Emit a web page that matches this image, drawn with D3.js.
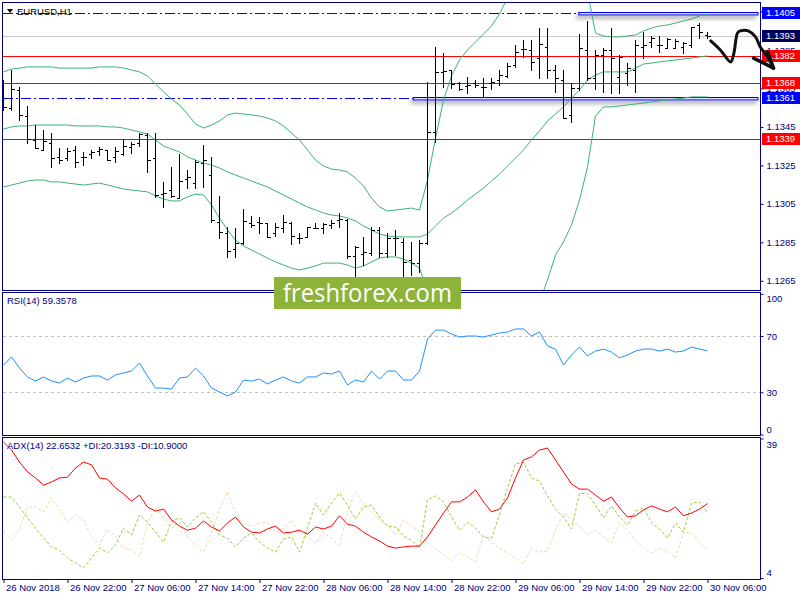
<!DOCTYPE html>
<html>
<head>
<meta charset="utf-8">
<style>
  body { margin: 0; background: #fff; }
  svg { display: block; font-family: "Liberation Sans", Arial, sans-serif; }
</style>
<script src="https://cdn.jsdelivr.net/npm/d3@7/dist/d3.min.js"></script>
</head>
<body>
<svg id="chart" width="800" height="600"></svg>
<script>
var timeLabels = ["26 Nov 2018", "26 Nov 22:00", "27 Nov 06:00", "27 Nov 14:00", "27 Nov 22:00", "28 Nov 06:00",
                  "28 Nov 14:00", "28 Nov 22:00", "29 Nov 06:00", "29 Nov 14:00", "29 Nov 22:00", "30 Nov 06:00"];

var openP = [1.13642,1.13548,1.13642,1.13507,1.13382,1.13330,1.13366,1.13294,1.13288,1.13330,
  1.13294,1.13309,1.13325,1.13330,1.13294,1.13309,1.13346,1.13366,1.13408,1.13288,
  1.13101,1.13122,1.13080,1.13179,1.13158,1.13262,1.13200,1.12956,1.12898,1.12815,
  1.12846,1.12950,1.12956,1.12950,1.12898,1.12924,1.12950,1.12872,1.12878,1.12924,
  1.12924,1.12940,1.12966,1.12966,1.12779,1.12789,1.12794,1.12914,1.12794,1.12872,
  1.12852,1.12758,1.12742,1.12846,1.13424,1.13736,1.13746,1.13678,1.13663,1.13678,
  1.13658,1.13678,1.13694,1.13715,1.13772,1.13855,1.13850,1.13808,1.13866,1.13746,
  1.13694,1.13512,1.13652,1.13850,1.13704,1.13824,1.13850,1.13710,1.13730,1.13746,
  1.13866,1.13892,1.13876,1.13860,1.13860,1.13866,1.13876,1.13980,1.13928];
var highP = [1.13694,1.13746,1.13658,1.13559,1.13460,1.13434,1.13418,1.13340,1.13340,1.13351,
  1.13320,1.13330,1.13346,1.13330,1.13346,1.13387,1.13372,1.13418,1.13418,1.13418,
  1.13164,1.13242,1.13309,1.13226,1.13278,1.13356,1.13294,1.13091,1.12930,1.12924,
  1.13023,1.12987,1.12982,1.12950,1.12950,1.12992,1.12956,1.12898,1.12930,1.12950,
  1.12950,1.12966,1.13002,1.12971,1.12831,1.12878,1.12930,1.12930,1.12898,1.12914,
  1.12872,1.12852,1.12862,1.13684,1.13866,1.13834,1.13746,1.13684,1.13710,1.13694,
  1.13704,1.13704,1.13746,1.13782,1.13876,1.13902,1.13902,1.13964,1.13964,1.13772,
  1.13746,1.13678,1.13933,1.14001,1.13850,1.13860,1.13964,1.13824,1.13782,1.13902,
  1.13944,1.13923,1.13923,1.13912,1.13907,1.13892,1.13970,1.13990,1.13944];
var lowP = [1.13538,1.13538,1.13486,1.13366,1.13340,1.13330,1.13242,1.13262,1.13278,1.13242,
  1.13252,1.13288,1.13304,1.13278,1.13268,1.13304,1.13314,1.13351,1.13216,1.13086,
  1.13034,1.13086,1.13080,1.13132,1.13132,1.13138,1.12956,1.12872,1.12774,1.12774,
  1.12841,1.12930,1.12898,1.12878,1.12883,1.12904,1.12841,1.12846,1.12878,1.12924,
  1.12898,1.12924,1.12930,1.12768,1.12654,1.12732,1.12784,1.12774,1.12774,1.12784,
  1.12675,1.12680,1.12696,1.12841,1.13372,1.13658,1.13652,1.13642,1.13626,1.13658,
  1.13611,1.13647,1.13668,1.13710,1.13762,1.13814,1.13746,1.13704,1.13704,1.13632,
  1.13496,1.13476,1.13642,1.13694,1.13647,1.13632,1.13626,1.13626,1.13668,1.13632,
  1.13808,1.13866,1.13840,1.13860,1.13860,1.13834,1.13866,1.13912,1.13912];
var closeP = [1.13554,1.13647,1.13512,1.13387,1.13340,1.13377,1.13288,1.13278,1.13325,1.13268,
  1.13294,1.13320,1.13335,1.13278,1.13325,1.13351,1.13361,1.13413,1.13278,1.13096,
  1.13106,1.13091,1.13169,1.13190,1.13268,1.13278,1.12966,1.12904,1.12805,1.12846,
  1.12961,1.12940,1.12950,1.12878,1.12930,1.12956,1.12883,1.12872,1.12930,1.12924,
  1.12945,1.12950,1.12971,1.12779,1.12826,1.12800,1.12914,1.12794,1.12872,1.12872,
  1.12748,1.12742,1.12846,1.13424,1.13736,1.13741,1.13673,1.13647,1.13668,1.13668,
  1.13658,1.13684,1.13720,1.13767,1.13840,1.13855,1.13788,1.13881,1.13746,1.13704,
  1.13496,1.13652,1.13860,1.13704,1.13824,1.13850,1.13808,1.13814,1.13756,1.13876,
  1.13876,1.13912,1.13876,1.13907,1.13897,1.13886,1.13970,1.13944,1.13923];

var bbUpper = [1.13736,1.13751,1.13756,1.13762,1.13762,1.13762,1.13762,1.13756,1.13756,1.13756,
  1.13756,1.13756,1.13762,1.13762,1.13762,1.13756,1.13746,1.13736,1.13715,1.13673,
  1.13632,1.13595,1.13564,1.13517,1.13465,1.13444,1.13460,1.13481,1.13512,1.13522,
  1.13517,1.13512,1.13507,1.13496,1.13481,1.13455,1.13418,1.13382,1.13330,1.13278,
  1.13247,1.13231,1.13226,1.13216,1.13184,1.13143,1.13080,1.13034,1.13013,1.13018,
  1.13023,1.13028,1.13018,1.13174,1.13392,1.13590,1.13715,1.13798,1.13850,1.13892,
  1.13933,1.13975,1.14037,1.14120,1.14183,1.14235,1.14287,1.14318,1.14308,1.14250,
  1.14256,1.14256,1.14214,1.14152,1.13938,1.13923,1.13918,1.13918,1.13923,1.13928,
  1.13949,1.13964,1.13975,1.13980,1.13990,1.14001,1.14011,1.14027,1.14037];
var bbMiddle = [1.13439,1.13450,1.13455,1.13455,1.13460,1.13460,1.13460,1.13460,1.13460,1.13455,
  1.13455,1.13455,1.13455,1.13450,1.13450,1.13444,1.13434,1.13424,1.13413,1.13382,
  1.13351,1.13335,1.13320,1.13294,1.13278,1.13262,1.13252,1.13236,1.13216,1.13200,
  1.13184,1.13169,1.13153,1.13138,1.13117,1.13096,1.13075,1.13054,1.13034,1.13018,
  1.13002,1.12992,1.12987,1.12976,1.12961,1.12935,1.12914,1.12893,1.12883,1.12878,
  1.12878,1.12878,1.12878,1.12893,1.12935,1.12976,1.13002,1.13034,1.13070,1.13101,
  1.13132,1.13169,1.13205,1.13247,1.13288,1.13330,1.13382,1.13429,1.13481,1.13517,
  1.13554,1.13600,1.13642,1.13694,1.13720,1.13736,1.13736,1.13736,1.13736,1.13756,
  1.13777,1.13782,1.13788,1.13793,1.13798,1.13803,1.13808,1.13814,1.13819];
var bbLower = [1.13138,1.13148,1.13158,1.13169,1.13174,1.13174,1.13164,1.13164,1.13158,1.13153,
  1.13148,1.13153,1.13158,1.13148,1.13138,1.13127,1.13122,1.13117,1.13112,1.13091,
  1.13075,1.13065,1.13065,1.13086,1.13101,1.13096,1.13044,1.12976,1.12914,1.12862,
  1.12831,1.12810,1.12789,1.12768,1.12748,1.12732,1.12716,1.12706,1.12716,1.12727,
  1.12742,1.12742,1.12742,1.12732,1.12716,1.12727,1.12748,1.12768,1.12774,1.12774,
  1.12763,1.12742,1.12716,1.12602,1.12477,1.12363,1.12290,1.12269,1.12290,1.12311,
  1.12332,1.12363,1.12373,1.12373,1.12394,1.12425,1.12477,1.12540,1.12654,1.12784,
  1.12852,1.12940,1.13070,1.13242,1.13507,1.13554,1.13554,1.13559,1.13564,1.13569,
  1.13574,1.13580,1.13585,1.13590,1.13595,1.13600,1.13606,1.13606,1.13606];

var rsi = [49.4,55.1,47.2,40.9,38.0,40.9,38.0,36.6,40.1,37.3,
  40.1,41.6,41.6,38.7,42.3,43.7,45.1,50.8,41.6,33.0,
  33.0,32.3,40.1,40.9,47.2,41.6,33.0,30.2,27.4,30.2,
  38.7,38.0,39.4,35.9,38.7,40.9,38.0,36.6,40.9,40.9,
  43.7,43.0,45.1,35.2,38.7,37.3,45.1,39.4,45.1,45.1,
  38.7,38.7,45.1,67.9,74.2,74.2,71.4,69.3,70.0,70.0,
  69.3,70.7,72.1,72.8,75.0,75.0,70.0,72.8,62.9,60.7,
  49.4,56.5,62.2,55.8,59.3,60.7,58.6,54.4,56.5,59.3,
  60.7,60.7,59.3,60.7,58.6,59.3,62.2,60.7,59.3578];
var rsiLevels = [70, 30];
var rsiTicks = [0, 30, 70, 100];

var adx = [38.1,36.1,33.1,30.6,29.1,27.3,28.1,29.1,29.3,31.6,
  33.1,32.4,29.1,28.8,26.6,25.1,23.3,24.8,21.8,20.8,
  21.3,18.6,17.0,16.0,16.5,18.3,16.8,15.8,17.8,19.3,
  16.8,15.5,15.3,16.3,17.0,15.3,15.5,16.0,15.0,16.8,
  16.3,17.0,19.6,17.5,17.0,15.5,14.3,13.3,12.0,11.5,
  11.8,12.0,12.0,14.3,17.3,20.3,23.1,23.1,24.3,26.1,
  23.1,20.6,21.3,24.1,29.1,33.6,34.4,36.1,36.6,33.6,
  30.6,27.6,26.3,26.3,24.8,23.3,24.3,21.6,19.3,19.6,
  21.1,22.1,21.3,20.6,21.8,19.6,20.3,21.3,22.6532];
var plusDi = [24.3,24.3,21.8,19.1,16.5,14.0,11.8,11.0,9.0,7.8,
  6.5,9.0,11.5,10.3,12.3,16.5,14.8,19.8,18.0,15.5,
  13.0,18.3,19.1,16.8,19.1,20.6,18.0,14.8,14.0,11.8,
  14.0,15.3,13.0,11.5,10.5,13.8,14.3,10.5,16.5,22.8,
  19.8,22.8,25.3,22.3,18.8,21.8,22.3,19.3,17.0,16.8,
  14.5,13.5,11.5,23.6,24.6,23.1,19.3,16.0,18.0,16.5,
  14.3,14.0,19.8,26.6,32.6,33.1,29.1,28.3,24.6,21.3,
  19.3,16.3,25.3,25.1,22.3,19.1,22.1,19.3,17.3,20.8,
  21.6,17.8,16.3,14.0,17.8,15.5,22.8,23.1,20.3193];
var minusDi = [15.5,13.5,16.0,21.8,21.8,20.6,24.1,21.1,18.0,19.8,
  18.6,14.3,12.3,16.3,14.3,11.5,11.0,9.3,17.8,21.6,
  19.1,16.5,18.0,14.3,12.3,10.5,15.3,21.3,25.6,20.3,
  17.5,17.0,17.8,18.0,15.5,16.3,18.6,15.5,14.3,12.8,
  15.5,14.0,11.8,20.6,25.6,22.8,20.8,18.6,17.3,14.8,
  18.6,17.3,15.5,12.8,11.5,9.8,8.3,10.3,9.3,8.0,
  14.8,13.0,11.5,10.3,9.0,7.5,11.5,10.5,10.8,16.0,
  20.3,18.6,16.8,15.0,16.0,14.3,12.8,17.8,16.0,13.5,
  11.5,10.3,11.5,10.8,9.0,15.5,15.3,13.0,10.9];
var adxTicks = [4, 39];

var priceTicks = [1.1265, 1.1285, 1.1305, 1.1325, 1.1345, 1.1365, 1.1385, 1.1405];
var levelPrices = [1.14041, 1.13923, 1.13818, 1.13678, 1.13600, 1.13387];
var levelLabels = ["1.1405", "1.1393", "1.1382", "1.1368", "1.1361", "1.1339"];
var levelColors = ["#0000ff", "#00005a", "#ff0000", "#ff0000", "#0000ff", "#ff0000"];
var levelKinds = ["dashdot", "bid", "solid", "solid", "dashdot", "solid"];
var levelBoxFrom = [71.9, null, null, null, 51.2, null];

// hand drawn forecast arrow, [bar, price]
var arrowPath = [[88.4,1.13897],[89.6,1.13850],[90.9,1.13788],[91.3,1.13834],[91.75,1.13938],
  [92.1,1.13949],[93.1,1.13949],[94.0,1.13918],[94.6,1.13866],[95.5,1.13814],[96.25,1.13756]];
var arrowHead = [[[93.75,1.13808],[96.25,1.13756]], [[95.5,1.13840],[96.25,1.13756]]];

var navy = "#000080";
var svg = d3.select("#chart");

var x = d3.scaleLinear().domain([0, 88]).range([3.5, 707.5]);
var yPrice = d3.scaleLinear().domain([1.126, 1.141]).range([290.4, 1.9]);
var yRsi = d3.scaleLinear().domain([0, 100]).range([434.5, 293.8]);
var yAdx = d3.scaleLinear().domain([4, 39]).range([578, 438.5]);

var panels = [
  {id: "main", top: 2, bottom: 290},
  {id: "rsi", top: 292, bottom: 435},
  {id: "adx", top: 437, bottom: 579}
];

var defs = svg.append("defs");
panels.forEach(function(p) {
  defs.append("clipPath").attr("id", "clip-" + p.id)
    .append("rect").attr("x", 3).attr("y", p.top + 1)
    .attr("width", 757).attr("height", p.bottom - p.top - 1);
});
var shadow = defs.append("filter").attr("id", "shadow")
  .attr("x", "-5%").attr("y", "-300%").attr("width", "110%").attr("height", "700%");
shadow.append("feDropShadow").attr("dx", -2).attr("dy", 3).attr("stdDeviation", 2)
  .attr("flood-color", "#777").attr("flood-opacity", 0.7);

svg.append("rect").attr("width", 800).attr("height", 600).attr("fill", "#fff");

var crisp = function(v) { return Math.round(v) + 0.5; };

// ---- main price panel
var gMain = svg.append("g").attr("clip-path", "url(#clip-main)");

levelPrices.forEach(function(v, i) {
  var yy = crisp(yPrice(v));
  var endX = levelBoxFrom[i] != null ? x(levelBoxFrom[i]) : 760;
  var line = gMain.append("line")
    .attr("x1", 3).attr("x2", endX).attr("y1", yy).attr("y2", yy)
    .attr("shape-rendering", "crispEdges");
  if (levelKinds[i] == "dashdot") {
    line.attr("stroke", levelColors[i]).attr("stroke-dasharray", "10,3,2,3");
  } else if (levelKinds[i] == "bid") {
    line.attr("stroke", "#c8c8c8");
  } else {
    line.attr("stroke", levelColors[i]);
  }
  if (levelBoxFrom[i] != null) {
    gMain.append("rect")
      .attr("x", x(levelBoxFrom[i])).attr("y", yy - 1)
      .attr("width", 760 - x(levelBoxFrom[i]) - 2).attr("height", 2.5)
      .attr("fill", "#d8d8ff").attr("stroke", levelColors[i]).attr("stroke-width", 1)
      .attr("filter", "url(#shadow)");
  }
});

var bbLine = function(arr) {
  return d3.line().x(function(d, i) { return x(i); }).y(function(d) { return yPrice(d); })(arr);
};
[bbUpper, bbMiddle, bbLower].forEach(function(arr) {
  gMain.append("path").attr("d", bbLine(arr))
    .attr("fill", "none").attr("stroke", "#3cb371").attr("stroke-width", 1);
});

var bars = openP.map(function(o, i) {
  return {i: i, o: o, h: highP[i], l: lowP[i], c: closeP[i]};
});
var barG = gMain.append("g").attr("stroke", "#000").attr("stroke-width", 1)
  .attr("shape-rendering", "crispEdges");
barG.selectAll(".hl").data(bars).enter().append("line").attr("class", "hl")
  .attr("x1", function(d) { return x(d.i); }).attr("x2", function(d) { return x(d.i); })
  .attr("y1", function(d) { return Math.round(yPrice(d.h)); })
  .attr("y2", function(d) { return Math.round(yPrice(d.l)) + 1; });
barG.selectAll(".op").data(bars).enter().append("line").attr("class", "op")
  .attr("x1", function(d) { return x(d.i) - 3; }).attr("x2", function(d) { return x(d.i); })
  .attr("y1", function(d) { return crisp(yPrice(d.o)); })
  .attr("y2", function(d) { return crisp(yPrice(d.o)); });
barG.selectAll(".cl").data(bars).enter().append("line").attr("class", "cl")
  .attr("x1", function(d) { return x(d.i); }).attr("x2", function(d) { return x(d.i) + 3; })
  .attr("y1", function(d) { return crisp(yPrice(d.c)); })
  .attr("y2", function(d) { return crisp(yPrice(d.c)); });

// ---- RSI panel
var gRsi = svg.append("g").attr("clip-path", "url(#clip-rsi)");
gRsi.selectAll(".lvl").data(rsiLevels).enter().append("line")
  .attr("x1", 3).attr("x2", 760)
  .attr("y1", function(d) { return crisp(yRsi(d)); }).attr("y2", function(d) { return crisp(yRsi(d)); })
  .attr("stroke", "#c0c0c0").attr("stroke-dasharray", "3,3").attr("shape-rendering", "crispEdges");
gRsi.append("path")
  .attr("d", d3.line().x(function(d, i) { return x(i); }).y(function(d) { return yRsi(d); })(rsi))
  .attr("fill", "none").attr("stroke", "#1e90ff").attr("stroke-width", 1);

// ---- ADX panel
var gAdx = svg.append("g").attr("clip-path", "url(#clip-adx)");
var adxLine = d3.line().x(function(d, i) { return x(i); }).y(function(d) { return yAdx(d); });
gAdx.append("path").attr("d", adxLine(minusDi))
  .attr("fill", "none").attr("stroke", "#f5d7a8").attr("stroke-dasharray", "3,2");
gAdx.append("path").attr("d", adxLine(plusDi))
  .attr("fill", "none").attr("stroke", "#9acd32").attr("stroke-dasharray", "3,2");
gAdx.append("path").attr("d", adxLine(adx))
  .attr("fill", "none").attr("stroke", "#ff0000").attr("stroke-width", 1);

// ---- frames
panels.forEach(function(p) {
  svg.append("rect").attr("x", 2.5).attr("y", p.top + 0.5)
    .attr("width", 758).attr("height", p.bottom - p.top)
    .attr("fill", "none").attr("stroke", navy).attr("shape-rendering", "crispEdges");
});

// ---- axes
var styleAxis = function(g) {
  g.select(".domain").remove();
  g.selectAll(".tick line").attr("stroke", navy);
  g.selectAll(".tick text").attr("fill", navy).attr("font-size", "9.5px")
    .attr("font-family", "Liberation Sans, Arial, sans-serif");
};

svg.append("g").attr("transform", "translate(760.5,0)")
  .call(d3.axisRight(yPrice).tickValues(priceTicks).tickSize(3).tickFormat(d3.format(".4f")))
  .call(styleAxis);

svg.append("g").attr("transform", "translate(760.5,0)")
  .call(d3.axisRight(yRsi).tickValues(rsiTicks).tickSize(3))
  .call(styleAxis)
  .selectAll(".tick text").attr("dy", function(d) { return d == 100 ? "0.85em" : d == 0 ? "-0.2em" : "0.32em"; });

svg.append("g").attr("transform", "translate(760.5,0)")
  .call(d3.axisRight(yAdx).tickValues(adxTicks).tickSize(3))
  .call(styleAxis)
  .selectAll(".tick text").attr("dy", function(d) { return d == 39 ? "0.9em" : "-0.3em"; });

var timeAxis = svg.append("g").attr("transform", "translate(0,579)")
  .call(d3.axisBottom(x).tickValues(d3.range(0, 89, 8)).tickSize(4)
    .tickFormat(function(d, i) { return timeLabels[i]; }))
  .call(styleAxis);
timeAxis.selectAll(".tick text").attr("text-anchor", "start").attr("x", 2).attr("y", 5);

// ---- level price boxes
levelPrices.forEach(function(v, i) {
  var yy = Math.round(yPrice(v));
  svg.append("rect").attr("x", 762).attr("y", yy - 6).attr("width", 38).attr("height", 12)
    .attr("fill", levelColors[i]);
  svg.append("text").attr("x", 766).attr("y", yy).attr("dy", "0.34em")
    .attr("fill", "#fff").attr("font-size", "9.5px").text(levelLabels[i]);
});

// ---- legends
svg.append("path").attr("d", "M7,9 L13,9 L10,13 Z").attr("fill", "#000");
svg.append("text").attr("x", 17).attr("y", 12).attr("dy", "0.34em")
  .attr("font-size", "9.5px").attr("fill", "#000").text("EURUSD,H1");
svg.append("text").attr("x", 7).attr("y", 301).attr("dy", "0.34em")
  .attr("font-size", "9.5px").attr("fill", navy)
  .text("RSI(14) " + rsi[rsi.length - 1].toFixed(4));
svg.append("text").attr("x", 7).attr("y", 446).attr("dy", "0.34em")
  .attr("font-size", "9.5px").attr("fill", navy)
  .text("ADX(14) " + adx[adx.length - 1].toFixed(4) + " +DI:" + plusDi[plusDi.length - 1].toFixed(4) +
        " -DI:" + minusDi[minusDi.length - 1].toFixed(4));

// ---- forecast arrow
var arrowLine = d3.line().curve(d3.curveCatmullRom)
  .x(function(d) { return x(d[0]); }).y(function(d) { return yPrice(d[1]); });
svg.append("path").attr("d", arrowLine(arrowPath))
  .attr("fill", "none").attr("stroke", "#111").attr("stroke-width", 3)
  .attr("stroke-linecap", "round").attr("stroke-linejoin", "round");
arrowHead.forEach(function(seg) {
  svg.append("path").attr("d", d3.line().x(function(d) { return x(d[0]); }).y(function(d) { return yPrice(d[1]); })(seg))
    .attr("stroke", "#111").attr("stroke-width", 3.5).attr("stroke-linecap", "round");
});

// ---- watermark
svg.append("rect").attr("x", 274).attr("y", 277).attr("width", 187).attr("height", 32).attr("fill", "#8db33b");
svg.append("text").attr("x", 283).attr("y", 302)
  .attr("font-family", "Open Sans, sans-serif").attr("font-size", "25px").attr("fill", "#fff")
  .attr("textLength", 169).attr("lengthAdjust", "spacingAndGlyphs").text("freshforex.com");
</script>
</body>
</html>
